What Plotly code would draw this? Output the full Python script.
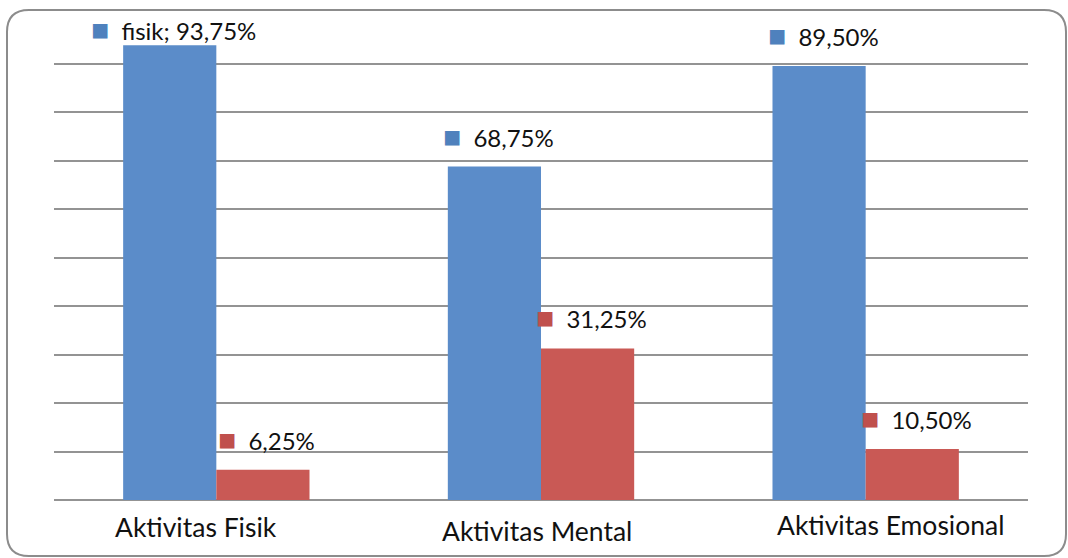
import plotly.graph_objects as go

categories = ["Aktivitas Fisik", "Aktivitas Mental", "Aktivitas Emosional"]
series1_values = [93.75, 68.75, 89.50]
series2_values = [6.25, 31.25, 10.50]
series1_labels = ["fisik; 93,75%", "68,75%", "89,50%"]
series2_labels = ["6,25%", "31,25%", "10,50%"]

BLUE = "#5B8CC9"
RED = "#C95955"
BLUE_KEY = "#4F81BD"
RED_KEY = "#C0504D"
FONT = "Lato"

fig = go.Figure()
fig.add_trace(go.Bar(x=categories, y=series1_values, marker=dict(color=BLUE, line=dict(width=0)),
                     offsetgroup="a", name="s1"))
fig.add_trace(go.Bar(x=categories, y=series2_values, marker=dict(color=RED, line=dict(width=0)),
                     offsetgroup="b", name="s2"))

L, R, T, B = 54, 40, 15, 58
W, H = 1068, 558
pw, ph = W - L - R, H - T - B

annotations = []
for i, cat in enumerate(categories):
    for k, (vals, labs, key) in enumerate([(series1_values, series1_labels, BLUE_KEY),
                                           (series2_values, series2_labels, RED_KEY)]):
        shift = 32
        if vals[i] > 92:
            shift = 17
        annotations.append(dict(
            x=cat, y=vals[i], xref="x", yref="y",
            xshift=(-1 if k == 0 else 1) * pw / 3 * 0.574 / 4 + 4,
            yshift=shift, yanchor="middle", xanchor="center",
            text=f"<span style='color:{key};font-size:30px'>■</span>&nbsp; {labs[i]}",
            showarrow=False, font=dict(family=FONT, size=24, color="#111111"),
        ))

# category labels (Excel places them slightly off-centre)
label_dx = [-20, -4, 25]
label_dy = [-27, -31, -25]
for i, cat in enumerate(categories):
    annotations.append(dict(
        x=cat, y=0, xref="x", yref="y", xshift=label_dx[i], yshift=label_dy[i],
        yanchor="middle", xanchor="center", text=cat, showarrow=False,
        font=dict(family=FONT, size=26.5, color="#111111"),
    ))

# rounded chart border (paper coordinates)
def px2x(px):
    return (px - L) / pw

def py2y(py):
    return (H - B - py) / ph

x0, x1, y0, y1 = 7, 1066, 10, 556
r = 22
path = (f"M {px2x(x0 + r)} {py2y(y0)} L {px2x(x1 - r)} {py2y(y0)} "
        f"Q {px2x(x1)} {py2y(y0)} {px2x(x1)} {py2y(y0 + r)} "
        f"L {px2x(x1)} {py2y(y1 - r)} Q {px2x(x1)} {py2y(y1)} {px2x(x1 - r)} {py2y(y1)} "
        f"L {px2x(x0 + r)} {py2y(y1)} Q {px2x(x0)} {py2y(y1)} {px2x(x0)} {py2y(y1 - r)} "
        f"L {px2x(x0)} {py2y(y0 + r)} Q {px2x(x0)} {py2y(y0)} {px2x(x0 + r)} {py2y(y0)} Z")

fig.update_layout(
    width=W, height=H,
    margin=dict(l=L, r=R, t=T, b=B),
    paper_bgcolor="white", plot_bgcolor="white",
    barmode="group", bargap=0.426, bargroupgap=0,
    showlegend=False,
    font=dict(family=FONT, size=24, color="#111111"),
    xaxis=dict(showgrid=False, showline=False, zeroline=False, showticklabels=False),
    yaxis=dict(range=[0, 100], dtick=10, showticklabels=False, showgrid=True,
               gridcolor="#939393", gridwidth=2, zeroline=True, zerolinecolor="#939393",
               zerolinewidth=2, showline=False),
    annotations=annotations,
    shapes=[dict(type="path", path=path, xref="paper", yref="paper",
                 line=dict(color="#8C8C8C", width=2), fillcolor="rgba(0,0,0,0)", layer="below")],
)

fig.write_html("out.html")
